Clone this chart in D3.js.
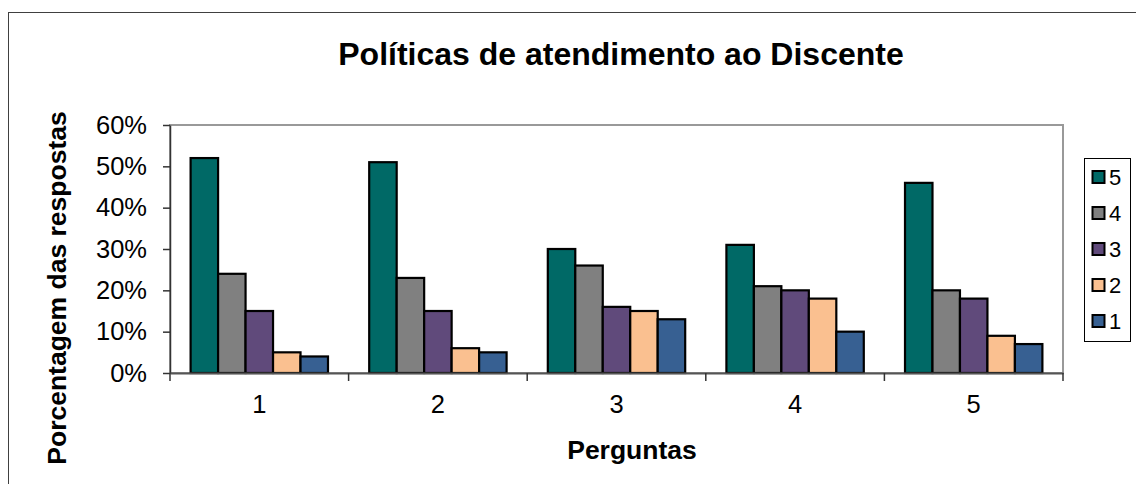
<!DOCTYPE html>
<html>
<head>
<meta charset="utf-8">
<script src="https://cdn.jsdelivr.net/npm/d3@7"></script>
<style>
  body { margin: 0; background: #fff; }
  svg { display: block; font-family: "Liberation Sans", Arial, sans-serif; }
</style>
</head>
<body>
<svg width="1136" height="484"></svg>
<script>
// data
var perguntas = ["1", "2", "3", "4", "5"];
var notas = ["5", "4", "3", "2", "1"];
var nota5 = [0.52, 0.51, 0.30, 0.31, 0.46];
var nota4 = [0.24, 0.23, 0.26, 0.21, 0.20];
var nota3 = [0.15, 0.15, 0.16, 0.20, 0.18];
var nota2 = [0.05, 0.06, 0.15, 0.18, 0.09];
var nota1 = [0.04, 0.05, 0.13, 0.10, 0.07];
var yTicks = [0, 0.1, 0.2, 0.3, 0.4, 0.5, 0.6];
var cores = ["#006966", "#808080", "#604a7b", "#fac090", "#376092"];

var series = [nota5, nota4, nota3, nota2, nota1];

var svg = d3.select("svg"),
  margin = { top: 125, left: 170, right: 73, bottom: 111 },
  width = +svg.attr("width") - margin.left - margin.right,
  height = +svg.attr("height") - margin.top - margin.bottom;

// outer chart frame (runs off the bottom and right edges)
svg.append("rect")
  .attr("x", 8.5).attr("y", 12.5)
  .attr("width", 1140).attr("height", 490)
  .attr("fill", "none").attr("stroke", "#404040");

svg.append("text")
  .attr("x", 621).attr("y", 65)
  .attr("text-anchor", "middle")
  .style("font-size", "32px").style("font-weight", "bold")
  .text("Políticas de atendimento ao Discente");

var g = svg.append("g").attr("transform", "translate(" + margin.left + "," + margin.top + ")");

var x0 = d3.scaleBand().domain(perguntas).range([0, width]);
var x1 = d3.scaleBand().domain(notas).range([0, x0.bandwidth()]).paddingOuter(0.75);
var y = d3.scaleLinear().domain([0, 0.6]).range([height, 0]);
var z = d3.scaleOrdinal().domain(notas).range(cores);

// plot area border
g.append("rect")
  .attr("width", width).attr("height", height)
  .attr("fill", "none").attr("stroke", "#999").attr("stroke-width", 2);

var rows = perguntas.map(function(p, i) {
  return {
    pergunta: p,
    values: notas.map(function(n, j) { return { nota: n, value: series[j][i] }; })
  };
});

g.selectAll(".grupo")
  .data(rows)
  .enter().append("g")
  .attr("class", "grupo")
  .attr("transform", function(d) { return "translate(" + x0(d.pergunta) + ",0)"; })
  .selectAll("rect")
  .data(function(d) { return d.values; })
  .enter().append("rect")
  .attr("x", function(d) { return x1(d.nota); })
  .attr("y", function(d) { return y(d.value); })
  .attr("width", x1.bandwidth())
  .attr("height", function(d) { return height - y(d.value); })
  .attr("fill", function(d) { return z(d.nota); })
  .attr("stroke", "#000")
  .attr("stroke-width", 2.2);

// y axis
var yAxis = g.append("g")
  .call(d3.axisLeft(y).tickValues(yTicks).tickFormat(d3.format(".0%")).tickSize(7).tickSizeOuter(0));
yAxis.select(".domain").attr("stroke", "#333").attr("stroke-width", 1.5);
yAxis.selectAll(".tick line").attr("stroke", "#333").attr("stroke-width", 1.5);
yAxis.selectAll(".tick text")
  .attr("x", -23)
  .attr("fill", "#000")
  .style("font-size", "25.5px")
  .style("font-family", "'Liberation Sans', Arial, sans-serif");

// x axis, ticks sit between categories
var xAxis = g.append("g")
  .attr("transform", "translate(0," + height + ")")
  .call(d3.axisBottom(x0).tickSize(0).tickPadding(22));
xAxis.select(".domain").attr("stroke", "#555").attr("stroke-width", 2);
xAxis.selectAll(".tick text")
  .attr("fill", "#000")
  .style("font-size", "25.5px")
  .style("font-family", "'Liberation Sans', Arial, sans-serif");
xAxis.selectAll(".sep")
  .data(d3.range(perguntas.length + 1))
  .enter().append("line")
  .attr("class", "sep")
  .attr("x1", function(i) { return i * x0.step(); })
  .attr("x2", function(i) { return i * x0.step(); })
  .attr("y1", 0).attr("y2", 8)
  .attr("stroke", "#333").attr("stroke-width", 1.5);

svg.append("text")
  .attr("x", 632).attr("y", 459)
  .attr("text-anchor", "middle")
  .style("font-size", "26.5px").style("font-weight", "bold")
  .text("Perguntas");

svg.append("text")
  .attr("transform", "translate(66,288) rotate(-90)")
  .attr("text-anchor", "middle")
  .style("font-size", "26.5px").style("font-weight", "bold")
  .text("Porcentagem das respostas");

// legend
var legend = svg.append("g").attr("transform", "translate(1084,158)");
legend.append("rect")
  .attr("x", 0.5).attr("y", 0.5)
  .attr("width", 46).attr("height", 183)
  .attr("fill", "#fff").attr("stroke", "#000");

var item = legend.selectAll(".item")
  .data(notas)
  .enter().append("g")
  .attr("class", "item")
  .attr("transform", function(d, i) { return "translate(0," + (19 + i * 36) + ")"; });

item.append("rect")
  .attr("x", 8.5).attr("y", -6)
  .attr("width", 12).attr("height", 12)
  .attr("fill", function(d) { return z(d); })
  .attr("stroke", "#000").attr("stroke-width", 2);

item.append("text")
  .attr("x", 25).attr("y", 8)
  .style("font-size", "22px")
  .text(function(d) { return d; });
</script>
</body>
</html>
